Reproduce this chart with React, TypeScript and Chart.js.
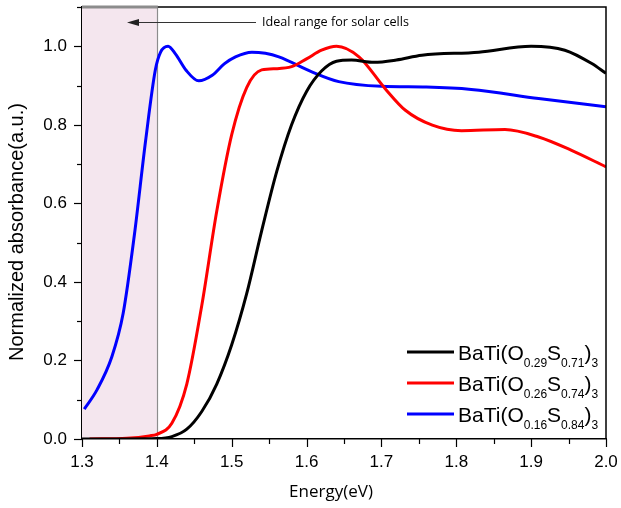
import React, { useEffect, useRef } from "react";
import { Chart, registerables } from "chart.js";

Chart.register(...registerables);

// ---- data ----
const blackX = [1.30, 1.36, 1.40, 1.42, 1.44, 1.46, 1.48, 1.50, 1.52, 1.54, 1.56, 1.58, 1.60, 1.62, 1.64, 1.66, 1.69, 1.72, 1.754, 1.83, 1.90, 1.945, 1.981, 2.0];
const blackY = [0.0, 0.0, 0.001, 0.006, 0.025, 0.07, 0.14, 0.24, 0.37, 0.53, 0.68, 0.80, 0.885, 0.937, 0.962, 0.965, 0.959, 0.965, 0.977, 0.985, 1.0, 0.99, 0.956, 0.931];

const redX = [1.31, 1.36, 1.39, 1.40, 1.42, 1.44, 1.46, 1.48, 1.50, 1.52, 1.54, 1.56, 1.58, 1.60, 1.62, 1.64, 1.67, 1.705, 1.732, 1.768, 1.807, 1.865, 1.91, 1.954, 2.0];
const redY = [0.0, 0.002, 0.008, 0.012, 0.04, 0.14, 0.34, 0.58, 0.775, 0.895, 0.94, 0.943, 0.948, 0.968, 0.99, 1.0, 0.973, 0.892, 0.837, 0.799, 0.785, 0.788, 0.769, 0.735, 0.693];

const blueX = [1.303, 1.32, 1.34, 1.355, 1.37, 1.385, 1.398, 1.405, 1.415, 1.425, 1.439, 1.456, 1.474, 1.49, 1.505, 1.527, 1.545, 1.563, 1.607, 1.643, 1.70, 1.76, 1.82, 1.91, 2.0];
const blueY = [0.076, 0.125, 0.21, 0.32, 0.52, 0.76, 0.94, 0.985, 1.0, 0.98, 0.939, 0.912, 0.926, 0.955, 0.973, 0.985, 0.982, 0.973, 0.935, 0.91, 0.898, 0.896, 0.89, 0.867, 0.846];

const seriesColors = ["#000000", "#ff0000", "#0000ff"];
const legendLabels = ["BaTi(O_{0.29}S_{0.71})_{3}", "BaTi(O_{0.26}S_{0.74})_{3}", "BaTi(O_{0.16}S_{0.84})_{3}"];

const xRange = [1.3, 2.0];
const yRange = [0, 1.1];
const shadeRange = [1.3, 1.4];
const annotationText = "Ideal range for solar cells";
const xTitle = "Energy(eV)";
const yTitle = "Normalized absorbance(a.u.)";

const toPoints = (xs: number[], ys: number[]) => xs.map((x, i) => ({ x, y: ys[i] }));

function parseRich(s: string) {
  const parts: { t: string; sub: boolean }[] = [];
  const re = /_\{([^}]*)\}|([^_]+)/g;
  let m;
  while ((m = re.exec(s))) {
    if (m[1] !== undefined) parts.push({ t: m[1], sub: true });
    else parts.push({ t: m[2], sub: false });
  }
  return parts;
}

const decorPlugin = {
  id: "decor",
  beforeDatasetsDraw(chart: any) {
    const { ctx, chartArea, scales } = chart;
    const x0 = scales.x.getPixelForValue(shadeRange[0]);
    const x1 = scales.x.getPixelForValue(shadeRange[1]);
    ctx.save();
    ctx.fillStyle = "#f4e6ee";
    ctx.fillRect(x0, chartArea.top, x1 - x0, chartArea.bottom - chartArea.top);
    ctx.strokeStyle = "#8c8c8c";
    ctx.lineWidth = 1.2;
    ctx.beginPath();
    ctx.moveTo(Math.round(x1) + 0.5, chartArea.bottom);
    ctx.lineTo(Math.round(x1) + 0.5, chartArea.top);
    ctx.stroke();
    ctx.restore();
  },
  afterDraw(chart: any) {
    const { ctx, chartArea, scales } = chart;
    const { left, right, top, bottom } = chartArea;
    ctx.save();
    // frame top & right
    ctx.strokeStyle = "#000";
    ctx.lineWidth = 1.5;
    ctx.beginPath();
    ctx.moveTo(left, top);
    ctx.lineTo(right, top);
    ctx.lineTo(right, bottom);
    ctx.stroke();
    // shade top edge
    const sx0 = scales.x.getPixelForValue(shadeRange[0]);
    const sx1 = scales.x.getPixelForValue(shadeRange[1]);
    ctx.strokeStyle = "#8c8c8c";
    ctx.lineWidth = 3;
    ctx.beginPath();
    ctx.moveTo(sx0, top);
    ctx.lineTo(sx1 + 1, top);
    ctx.stroke();
    // x ticks
    ctx.strokeStyle = "#000";
    ctx.lineWidth = 1.2;
    for (let k = 0; k <= 14; k++) {
      const v = xRange[0] + k * 0.05;
      const px = Math.round(scales.x.getPixelForValue(v)) + 0.5;
      const len = k % 2 === 0 ? 8 : 5;
      ctx.beginPath();
      ctx.moveTo(px, bottom);
      ctx.lineTo(px, bottom + len);
      ctx.stroke();
    }
    // y ticks
    for (let k = 0; k <= 11; k++) {
      const v = k * 0.1;
      const py = Math.round(scales.y.getPixelForValue(v)) + 0.5;
      const len = k % 2 === 0 ? 8 : 5;
      ctx.beginPath();
      ctx.moveTo(left, py);
      ctx.lineTo(left - len, py);
      ctx.stroke();
    }
    // axis titles
    ctx.fillStyle = "#000";
    ctx.textAlign = "center";
    ctx.textBaseline = "middle";
    ctx.font = "17px 'Open Sans'";
    ctx.fillText(xTitle, 331, 492);
    ctx.save();
    ctx.translate(17, 232);
    ctx.rotate(-Math.PI / 2);
    ctx.font = "20px 'Liberation Sans'";
    ctx.fillText(yTitle, 0, 0);
    ctx.restore();
    // annotation
    ctx.strokeStyle = "#333";
    ctx.lineWidth = 1;
    ctx.beginPath();
    ctx.moveTo(256, 22.5);
    ctx.lineTo(136, 22.5);
    ctx.stroke();
    ctx.fillStyle = "#222";
    ctx.beginPath();
    ctx.moveTo(127, 22.5);
    ctx.lineTo(139, 19);
    ctx.lineTo(139, 26);
    ctx.closePath();
    ctx.fill();
    ctx.fillStyle = "#000";
    ctx.textAlign = "left";
    ctx.font = "13px 'Open Sans'";
    ctx.fillText(annotationText, 262, 22, 147);
    // legend
    const rows = [352, 383, 414];
    legendLabels.forEach((lab, i) => {
      const y = rows[i];
      ctx.strokeStyle = seriesColors[i];
      ctx.lineWidth = 3;
      ctx.beginPath();
      ctx.moveTo(407, y);
      ctx.lineTo(454, y);
      ctx.stroke();
      let x = 458;
      ctx.fillStyle = "#000";
      ctx.textBaseline = "alphabetic";
      for (const p of parseRich(lab)) {
        ctx.font = p.sub ? "12px 'Liberation Sans'" : "21px 'Liberation Sans'";
        ctx.fillText(p.t, x, p.sub ? y + 15 : y + 8);
        x += ctx.measureText(p.t).width;
      }
    });
    ctx.restore();
  },
};

const zeroPad = (s: any) => {
  s.paddingTop = 0;
  s.paddingBottom = 0;
  s.paddingLeft = 0;
  s.paddingRight = 0;
};

export default function App() {
  const ref = useRef<HTMLCanvasElement>(null);
  useEffect(() => {
    if (!ref.current) return;
    const mk = (xs: number[], ys: number[], c: string) => ({
      data: toPoints(xs, ys),
      borderColor: c,
      backgroundColor: c,
      borderWidth: 3,
      pointRadius: 0,
      cubicInterpolationMode: "monotone" as const,
      fill: false,
    });
    const chart = new Chart(ref.current, {
      type: "line",
      data: {
        datasets: [
          mk(blackX, blackY, seriesColors[0]),
          mk(redX, redY, seriesColors[1]),
          mk(blueX, blueY, seriesColors[2]),
        ],
      },
      options: {
        animation: false,
        responsive: false,
        devicePixelRatio: 1,
        layout: { padding: { top: 7, right: 15, left: 0, bottom: 0 } },
        plugins: { legend: { display: false }, tooltip: { enabled: false } },
        scales: {
          x: {
            type: "linear",
            min: xRange[0],
            max: xRange[1],
            grid: { display: false, drawTicks: false },
            border: { color: "#000", width: 1.5 },
            ticks: {
              stepSize: 0.1,
              autoSkip: false,
              maxRotation: 0,
              padding: 13,
              color: "#000",
              font: { family: "'Liberation Sans'", size: 17 },
              callback: (v: any) => Number(v).toFixed(1),
            },
            afterFit: (s: any) => { s.height = 69; zeroPad(s); },
          },
          y: {
            type: "linear",
            min: yRange[0],
            max: yRange[1],
            grid: { display: false, drawTicks: false },
            border: { color: "#000", width: 1.5 },
            ticks: {
              stepSize: 0.1,
              autoSkip: false,
              padding: 15,
              color: "#000",
              font: { family: "'Liberation Sans'", size: 17 },
              callback: (v: any) => (Math.round(Number(v) * 10) % 2 === 0 ? Number(v).toFixed(1) : ""),
            },
            afterFit: (s: any) => { s.width = 82; zeroPad(s); },
          },
        },
      },
      plugins: [decorPlugin],
    });
    return () => chart.destroy();
  }, []);
  return (
    <div style={{ position: "absolute", left: 0, top: 0, width: 621, height: 508, background: "#fff" }}>
      <canvas ref={ref} width={621} height={508} style={{ width: 621, height: 508 }} />
    </div>
  );
}
